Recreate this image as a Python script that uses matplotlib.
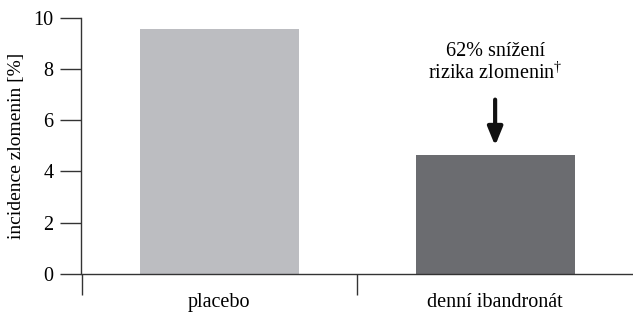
import matplotlib
matplotlib.use('Agg')
import matplotlib.pyplot as plt

categories = ['placebo', 'denní ibandronát']
incidence = [9.56, 4.64]
bar_colors = ['#bcbdc1', '#6b6c70']
y_ticks = [0, 2, 4, 6, 8, 10]
note = '62% snížení\nrizika zlomenin$^{\\mathregular{†}}$'

plt.rcParams['font.family'] = ['Liberation Serif', 'DejaVu Serif']
plt.rcParams['mathtext.fontset'] = 'custom'
plt.rcParams['mathtext.rm'] = 'Liberation Serif'
plt.rcParams['mathtext.it'] = 'Liberation Serif'

fig = plt.figure(figsize=(6.33, 3.16), dpi=100)
ax = fig.add_axes([81.5 / 633, 42.3 / 316, 551.5 / 633, 256 / 316])

x = list(range(len(categories)))
ax.bar(x, incidence, width=0.576, color=bar_colors, zorder=2)

ax.set_xlim(-0.5, len(categories) - 0.5)
ax.set_ylim(0, 10)
ax.set_yticks(y_ticks)
ax.set_xticks(x)
ax.set_xticklabels(categories)
ax.set_xticks([-0.5, 0.5], minor=True)

for s in ['top', 'right']:
    ax.spines[s].set_visible(False)
for s in ['left', 'bottom']:
    ax.spines[s].set_color('#333333')
    ax.spines[s].set_linewidth(1.0)

ax.tick_params(axis='y', length=15, width=1.0, color='#333333', labelsize=14.5, pad=5)
ax.tick_params(axis='x', which='major', length=0, labelsize=14.5, pad=14)
ax.tick_params(axis='x', which='minor', length=15, width=1.0, color='#333333')
ax.set_ylabel('incidence zlomenin [%]', fontsize=14, labelpad=6)

ax.text(1, 8.25, note, ha='center', va='center', fontsize=14.5, linespacing=1.1)
ax.annotate('', xy=(1, 5.0), xytext=(1, 6.8),
            arrowprops=dict(arrowstyle='-|>,head_length=1.1,head_width=0.45',
                            lw=3.0, color='#111111', shrinkA=0, shrinkB=0))

plt.savefig('out.png', dpi=100)
